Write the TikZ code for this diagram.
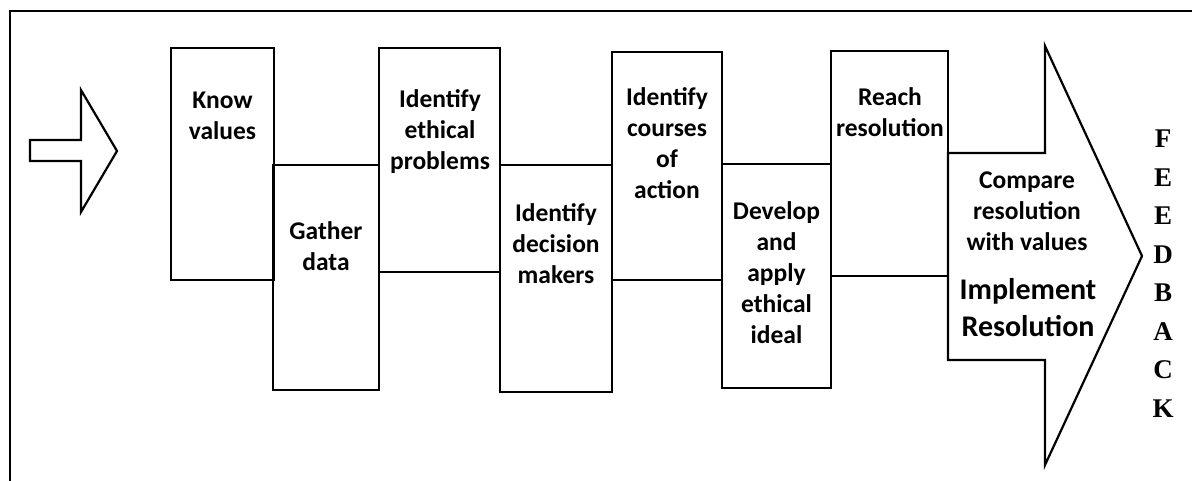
\documentclass[tikz,border=0pt]{standalone}
\usepackage{fontspec}
\setmainfont{Carlito}
\newfontfamily\fbfont{Liberation Serif}
\begin{document}
\begin{tikzpicture}[x=1pt,y=-1pt]
\tikzset{
  frame/.style={line width=2.6pt,line cap=rect},
  stepbox/.style={draw,line width=2.2pt,rectangle,inner sep=0pt},
  arrowshape/.style={draw,line width=2.2pt,line join=miter},
  txt/.style={font=\bfseries\fontsize{25.5}{31}\selectfont,align=center,inner sep=0pt,anchor=north},
  bigtxt/.style={font=\bfseries\fontsize{30}{37}\selectfont,align=center,inner sep=0pt,anchor=north},
  fbtxt/.style={font=\fbfont\bfseries\fontsize{27}{38.5}\selectfont,align=center,inner sep=0pt,anchor=north}
}
\useasboundingbox (0,0) rectangle (1192,480);
% frame
\draw[frame] (10,482) -- (10,11) -- (1194,11);
% small input arrow
\draw[arrowshape] (30,140) -- (81,140) -- (81,90) -- (117,151) -- (81,212) -- (81,161) -- (30,161) -- cycle;
% step boxes
\node[stepbox,minimum width=103pt,minimum height=232pt] (b1) at (222.5,164) {};
\node[stepbox,minimum width=106pt,minimum height=225pt] (b2) at (326,277.5) {};
\node[stepbox,minimum width=121pt,minimum height=224pt] (b3) at (439.5,160) {};
\node[stepbox,minimum width=112pt,minimum height=227pt] (b4) at (556,278.5) {};
\node[stepbox,minimum width=110pt,minimum height=228pt] (b5) at (667,166) {};
\node[stepbox,minimum width=109pt,minimum height=224pt] (b6) at (776.5,276) {};
\node[stepbox,minimum width=117pt,minimum height=225pt] (b7) at (889.5,163.5) {};
% big output arrow
\draw[arrowshape,fill=white] (948,153) -- (1045,153) -- (1045,46) -- (1142,256) -- (1045,465) -- (1045,360) -- (948,360) -- cycle;
% texts
\node[txt] (t1) at (222.5,92) {Know\\values};
\node[txt] (t2) at (326,221) {Gather\\data};
\node[txt] (t3) at (440,89) {Identify\\ethical\\problems};
\node[txt] (t4) at (556,203) {Identify\\decision\\makers};
\node[txt] (t5) at (667,87) {Identify\\courses\\of\\action};
\node[txt] (t6) at (776.5,201) {Develop\\and\\apply\\ethical\\ideal};
\node[txt] (t7) at (890,87) {Reach\\resolution};
\node[txt] (t8) at (1027,172) {Compare\\resolution\\with values};
\node[bigtxt] (t9) at (1028,278) {Implement\\Resolution};
\node[fbtxt] (fb) at (1163,130) {F\\E\\E\\D\\B\\A\\C\\K};
\end{tikzpicture}
\end{document}
